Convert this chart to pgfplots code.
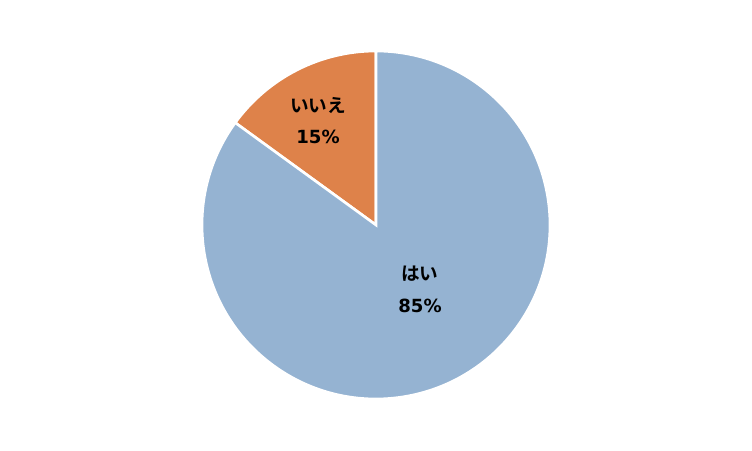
\documentclass[border=0pt]{standalone}
\usepackage{pgfplots}
\pgfplotsset{compat=1.18}
\usepackage{pgfplotstable}
\usepackage{fontspec}
\setmainfont{Noto Sans CJK JP}[BoldFont={* Bold}]
\newfontfamily\numfont{DejaVu Sans}[BoldFont={* Bold}]
\definecolor{cBlue}{HTML}{95B3D2}
\definecolor{cOrange}{HTML}{DE824A}
\pgfplotstableread{
label value
hai 85
iie 15
}\piedata
\begin{document}
\begin{tikzpicture}
\pgfplotstablegetelem{0}{value}\of\piedata \edef\vA{\pgfplotsretval}
\pgfplotstablegetelem{1}{value}\of\piedata \edef\vB{\pgfplotsretval}
\pgfmathsetmacro{\aStart}{90}
\pgfmathsetmacro{\aMid}{90+3.6*\vB}
\pgfmathsetmacro{\aEnd}{90+3.6*(\vA+\vB)}
\begin{axis}[
  scale only axis, width=15.04cm, height=9.02cm,
  xmin=0, xmax=752, ymin=0, ymax=451, y dir=reverse,
  hide axis, clip=false]
\path (axis cs:0,0) rectangle (axis cs:752,451);
\fill[cOrange, draw=white, line width=1.5pt, line join=miter] (axis cs:376,225) -- ++(\aStart:3.48cm) arc[start angle=\aStart, end angle=\aMid, radius=3.48cm] -- cycle;
\fill[cBlue, draw=white, line width=1.5pt, line join=miter] (axis cs:376,225) -- ++(\aMid:3.48cm) arc[start angle=\aMid, end angle=\aEnd, radius=3.48cm] -- cycle;
\node[font=\bfseries\fontsize{10.6}{12}\selectfont] at (axis cs:318,106) {いいえ};
\node[font=\numfont\bfseries\fontsize{10.3}{12}\selectfont] at (axis cs:318,137) {\vB\%};
\node[font=\bfseries\fontsize{10.6}{12}\selectfont] at (axis cs:420,274) {はい};
\node[font=\numfont\bfseries\fontsize{10.3}{12}\selectfont] at (axis cs:420,306) {\vA\%};
\end{axis}
\end{tikzpicture}
\end{document}
